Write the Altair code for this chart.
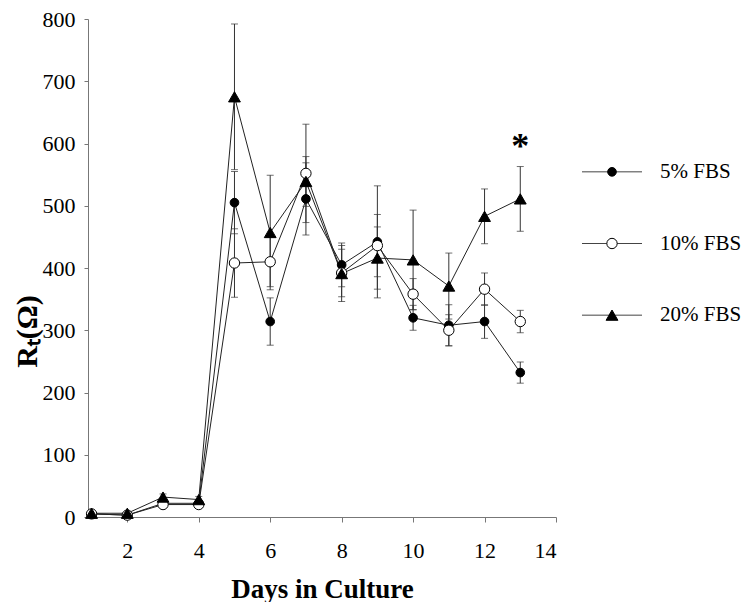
import altair as alt
import pandas as pd

days = list(range(1, 14))
series_names = ["5% FBS", "10% FBS", "20% FBS"]

fbs5 = [5, 3, 22, 22, 505, 314, 511, 405, 442, 320, 308, 314, 232]
fbs10 = [5, 3, 20, 20, 408, 410, 552, 392, 436, 358, 300, 366, 314]
fbs20 = [6, 6, 32, 28, 675, 457, 539, 391, 416, 413, 371, 483, 511]

err5 = [2, 2, 4, 4, 50, 38, 58, 35, 90, 20, 33, 27, 17]
err10 = [2, 2, 4, 4, 55, 40, 79, 38, 50, 25, 25, 26, 18]
err20 = [2, 2, 5, 5, 117, 92, 40, 45, 50, 80, 53, 44, 52]

x_ticks = [2, 4, 6, 8, 10, 12, 14]
y_ticks = [0, 100, 200, 300, 400, 500, 600, 700, 800]

star_day = [13]
star_value = [595]
star_text = ["*"]

rows = []
for name, vals, errs in zip(series_names, [fbs5, fbs10, fbs20], [err5, err10, err20]):
    for d, v, e in zip(days, vals, errs):
        rows.append({"day": d, "series": name, "value": v, "lo": v - e, "hi": v + e})
df = pd.DataFrame(rows)
star_df = pd.DataFrame({"day": star_day, "value": star_value, "label": star_text})
legend_df = pd.DataFrame({"series": series_names})

FONT = "Liberation Serif"

shape_scale = alt.Scale(domain=series_names, range=["circle", "circle", "triangle-up"])
fill_scale = alt.Scale(domain=series_names, range=["black", "white", "black"])
size_scale = alt.Scale(domain=series_names, range=[75, 140, 130])

x_enc = alt.X(
    "day:Q",
    scale=alt.Scale(domain=[0.9, 14], nice=False, zero=False),
    axis=alt.Axis(
        values=x_ticks, title="Days in Culture", titleFontSize=27, titleFontWeight="bold",
        titlePadding=15, labelFontSize=22, labelPadding=18, tickSize=5, grid=False,
        domainColor="#777", tickColor="#777", labelColor="black", titleColor="black",
        labelFont=FONT, titleFont=FONT,
    ),
)
y_enc = alt.Y(
    "value:Q",
    scale=alt.Scale(domain=[0, 800], nice=False),
    axis=alt.Axis(
        values=y_ticks, title="Rₜ(Ω)", titleFontSize=30, titleFontWeight="bold",
        titlePadding=0, titleY=312, labelFontSize=22, labelPadding=9, tickSize=4, grid=False,
        domainColor="#777", tickColor="#777", labelColor="black", titleColor="black",
        labelFont=FONT, titleFont=FONT,
    ),
)

base = alt.Chart(df)

lines = base.mark_line(color="#222", strokeWidth=1).encode(
    x=x_enc, y=y_enc, detail="series:N"
)
errs = base.mark_errorbar(ticks=alt.MarkConfig(size=7), color="#333", thickness=1).encode(
    x="day:Q", y=alt.Y("lo:Q", title="Rₜ(Ω)"), y2="hi:Q"
)
points = base.mark_point(filled=False, stroke="black", strokeWidth=1, opacity=1).encode(
    x="day:Q",
    y="value:Q",
    shape=alt.Shape("series:N", scale=shape_scale, legend=None),
    fill=alt.Fill("series:N", scale=fill_scale, legend=None),
    size=alt.Size("series:N", scale=size_scale, legend=None),
)
star = alt.Chart(star_df).mark_text(
    font=FONT, fontSize=36, fontWeight="bold", baseline="middle", color="black"
).encode(x="day:Q", y="value:Q", text="label:N")

main = alt.layer(lines, errs, points, star).properties(width=468, height=498)

leg_y = alt.Y(
    "series:N",
    scale=alt.Scale(domain=series_names, range=[117, 332]),
    axis=None,
)
leg_base = alt.Chart(legend_df)
leg_rule = leg_base.mark_rule(color="#444", strokeWidth=1).encode(
    x=alt.value(25), x2=alt.value(85), y=leg_y
)
leg_pts = leg_base.mark_point(filled=False, stroke="black", strokeWidth=1, opacity=1).encode(
    x=alt.value(55),
    y=leg_y,
    shape=alt.Shape("series:N", scale=shape_scale, legend=None),
    fill=alt.Fill("series:N", scale=fill_scale, legend=None),
    size=alt.Size("series:N", scale=size_scale, legend=None),
)
leg_txt = leg_base.mark_text(
    font=FONT, fontSize=21, align="left", baseline="middle", color="black"
).encode(x=alt.value(103), y=leg_y, text="series:N")
legend = alt.layer(leg_rule, leg_pts, leg_txt).properties(width=140, height=498)

chart = (
    alt.hconcat(main, legend, spacing=0)
    .resolve_scale(x="independent", y="independent")
    .properties(padding={"left": 4, "top": 0, "right": 0, "bottom": 0})
    .configure(font=FONT)
    .configure_view(stroke="transparent", strokeWidth=0)
)

chart.save("out.html", embed_options={"renderer": "svg", "actions": False})
